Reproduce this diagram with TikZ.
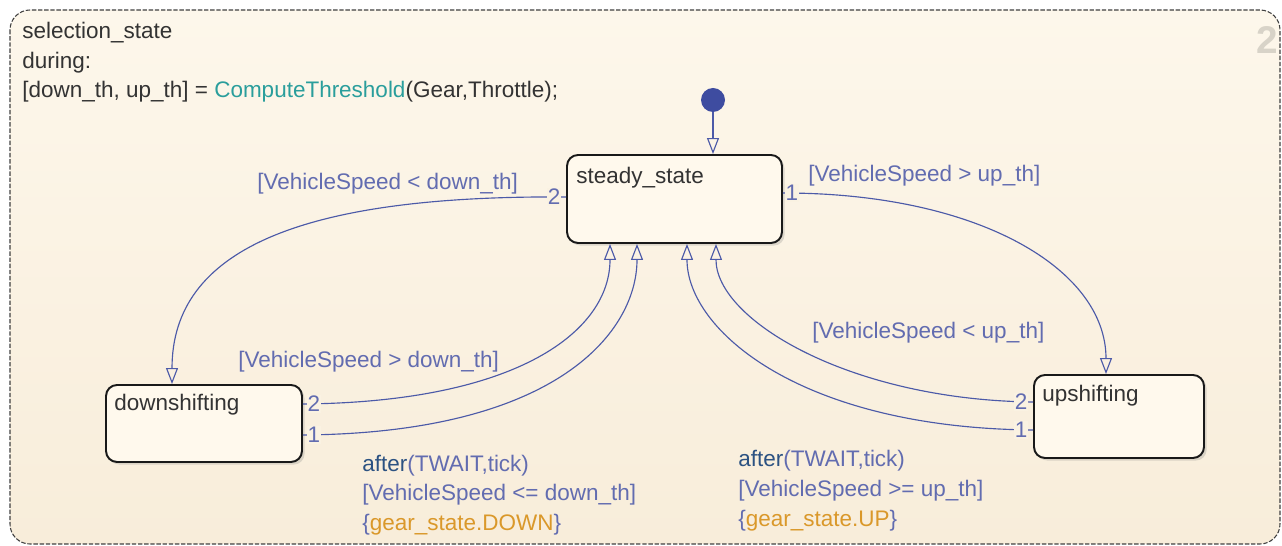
\documentclass[tikz,border=0pt]{standalone}
\usepackage{fontspec}
\setmainfont{Liberation Sans}
\usetikzlibrary{arrows.meta,shadows}
\definecolor{charttop}{RGB}{253,247,235}
\definecolor{chartbot}{RGB}{248,237,218}
\definecolor{chartbg}{RGB}{250,242,226}
\definecolor{statebg}{RGB}{255,249,237}
\definecolor{transline}{RGB}{76,90,168}
\definecolor{guardblue}{RGB}{98,108,176}
\definecolor{afterblue}{RGB}{44,82,130}
\definecolor{functeal}{RGB}{42,158,156}
\definecolor{actionorange}{RGB}{218,152,42}
\definecolor{dotblue}{RGB}{62,76,160}
\definecolor{chartnum}{RGB}{216,211,200}
\begin{document}
\begin{tikzpicture}[x=0.02cm,y=-0.02cm,
  font=\fontsize{12.8}{15}\selectfont,
  state/.style={draw=black!90,line width=1.1pt,rounded corners=0.22cm,fill=statebg,
    inner sep=0pt,drop shadow={shadow xshift=1.5pt,shadow yshift=-1.5pt,opacity=0.25}},
  statename/.style={anchor=base west,inner sep=0pt,text=black!80},
  trans/.style={draw=transline,line width=0.65pt,-{Triangle[open,length=0.32cm,width=0.24cm]}},
  guard/.style={anchor=base west,inner sep=0pt,text=guardblue},
  portnum/.style={text=guardblue,fill=chartbg,inner sep=0.6pt}]
\useasboundingbox (0,0) rectangle (1282,546);
% chart box
\draw[black!75,line width=0.6pt,dash pattern=on 2.5pt off 1pt,rounded corners=0.4cm,
  top color=charttop,bottom color=chartbot] (10,10) rectangle (1280,544);
\node[font=\fontsize{22}{22}\selectfont\bfseries,text=chartnum,inner sep=0pt] (chartno) at (1267,40) {2};
\node[statename] (cname) at (22,39) {selection\_state};
\node[statename] (cdur) at (22,69) {during:};
\node[statename] (cact) at (22,98) {[down\_th, up\_th] = \textcolor{functeal}{ComputeThreshold}(Gear,Throttle);};
% states
\node[state,minimum width=4.3cm,minimum height=1.76cm] (steady) at (674.5,199) {};
\node[state,minimum width=3.92cm,minimum height=1.54cm] (down) at (204,423.5) {};
\node[state,minimum width=3.4cm,minimum height=1.66cm] (up) at (1119,416.5) {};
\node[statename] at ([shift={(0.2cm,-0.58cm)}]steady.north west) {steady\_state};
\node[statename] at ([shift={(0.18cm,-0.52cm)}]down.north west) {downshifting};
\node[statename] at ([shift={(0.18cm,-0.54cm)}]up.north west) {upshifting};
% default transition
\node[circle,fill=dotblue,inner sep=0pt,minimum size=0.48cm] (init) at (713,100) {};
\draw[trans] (init) -- (init |- steady.north);
% transitions
\draw[trans] ([yshift=0.04cm]steady.west) .. controls (300,195) and (172,250) .. ([xshift=-0.64cm]down.north);
\draw[trans] ([yshift=0.12cm]steady.east) .. controls (980,193) and (1106,270) .. ([xshift=-0.26cm]up.north);
\draw[trans] ([yshift=0.39cm]down.east) .. controls (520,402) and (610,330) .. ([xshift=-1.29cm]steady.south);
\draw[trans] ([yshift=-0.23cm]down.east) .. controls (560,433) and (637,330) .. ([xshift=-0.75cm]steady.south);
\draw[trans] ([yshift=0.29cm]up.west) .. controls (850,400) and (716,320) .. ([xshift=0.83cm]steady.south);
\draw[trans] ([yshift=-0.27cm]up.west) .. controls (800,428) and (687,330) .. ([xshift=0.25cm]steady.south);
% execution order
\node[portnum] at ([shift={(-0.24cm,0.04cm)}]steady.west) {2};
\node[portnum] at ([shift={(0.18cm,0.12cm)}]steady.east) {1};
\node[portnum] at ([shift={(0.22cm,0.39cm)}]down.east) {2};
\node[portnum] at ([shift={(0.22cm,-0.23cm)}]down.east) {1};
\node[portnum] at ([shift={(-0.24cm,0.29cm)}]up.west) {2};
\node[portnum] at ([shift={(-0.24cm,-0.27cm)}]up.west) {1};
% labels
\node[guard] at (257,190) {[VehicleSpeed < down\_th]};
\node[guard] at (808,182) {[VehicleSpeed > up\_th]};
\node[guard] at (238,368) {[VehicleSpeed > down\_th]};
\node[guard] at (812,339) {[VehicleSpeed < up\_th]};
\node[guard] at (362,472) {\textcolor{afterblue}{after}(TWAIT,tick)};
\node[guard] at (362,501) {[VehicleSpeed <= down\_th]};
\node[guard] at (362,531) {\{\textcolor{actionorange}{gear\_state.DOWN}\}};
\node[guard] at (738,467) {\textcolor{afterblue}{after}(TWAIT,tick)};
\node[guard] at (738,497) {[VehicleSpeed >= up\_th]};
\node[guard] at (738,527) {\{\textcolor{actionorange}{gear\_state.UP}\}};
\end{tikzpicture}
\end{document}
